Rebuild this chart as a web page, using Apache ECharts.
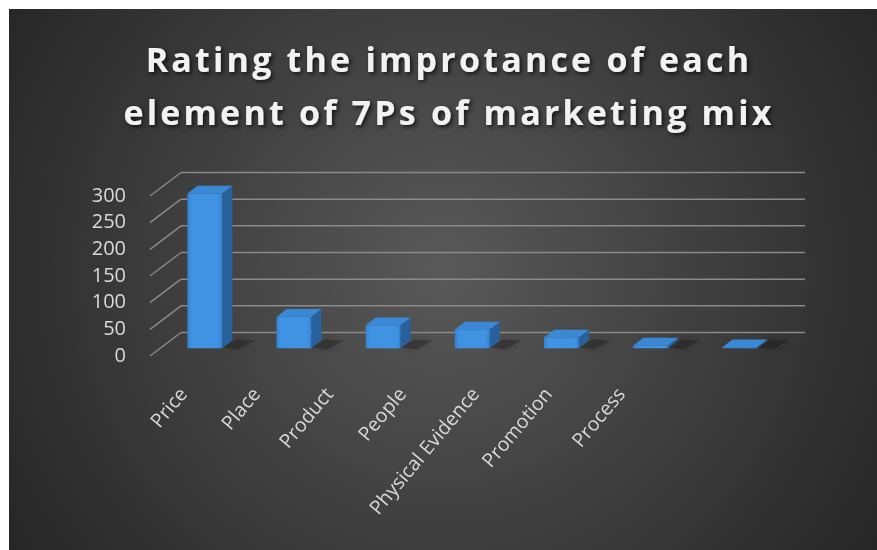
<!DOCTYPE html>
<html>
<head>
<meta charset="utf-8">
<title>7Ps of marketing mix</title>
<script src="https://cdn.jsdelivr.net/npm/echarts@6/dist/echarts.min.js"></script>
<style>
  html, body { margin: 0; padding: 0; background: #ffffff; }
  #wrap { position: relative; width: 877px; height: 550px; }
  #chart, #heading { position: absolute; left: 0; top: 0; width: 877px; height: 550px; }
  #heading { pointer-events: none; }
  /* tracked-out heading lettering */
  #heading text { letter-spacing: 3.2px; }
</style>
</head>
<body>
<div id="wrap">
  <div id="chart"></div>
  <div id="heading"></div>
</div>
<script>
// Survey results: importance rating of each element of the 7Ps
const titleLines = ['Rating the improtance of each', 'element of 7Ps of marketing mix'];
const categories = ['Price', 'Place', 'Product', 'People', 'Physical Evidence', 'Promotion', 'Process'];
const ratings = [290, 59, 43, 35, 20, 5, 2];
const valueTicks = [0, 50, 100, 150, 200, 250, 300];

// Oblique projection used for the pseudo-3D look (pixels from front to back wall)
const DEPTH_X = 31;
const DEPTH_Y = -23.5;
const BAR_FRONT = 0.33;   // depth fraction of bar front face
const BAR_BACK = 0.66;    // depth fraction of bar back face
const BAR_WIDTH = 0.39;   // share of the category band

const chart = echarts.init(document.getElementById('chart'), null, { renderer: 'canvas' });
const heading = echarts.init(document.getElementById('heading'), null, { renderer: 'svg' });

function renderWalls(params, api) {
  const cs = params.coordSys;
  const v = api.value(0);
  const p = api.coord([0, v]);
  const y = p[1];
  const x0 = cs.x;
  const lineStyle = { stroke: '#8a8a8a', lineWidth: 1.5 };
  return {
    type: 'group',
    children: [
      { type: 'line', shape: { x1: x0, y1: y, x2: x0 + DEPTH_X, y2: y + DEPTH_Y }, style: lineStyle },
      { type: 'line', shape: { x1: x0 + DEPTH_X, y1: y + DEPTH_Y, x2: x0 + cs.width + DEPTH_X, y2: y + DEPTH_Y }, style: lineStyle }
    ]
  };
}

function renderBar(params, api) {
  const idx = api.value(0);
  const v = api.value(1);
  const base = api.coord([idx, 0]);
  const top = api.coord([idx, v]);
  const band = api.size([1, 0])[0];
  const w = band * BAR_WIDTH;
  const x0 = base[0] - w / 2 + BAR_FRONT * DEPTH_X;
  const x1 = x0 + w;
  const yTop = top[1] + BAR_FRONT * DEPTH_Y;
  const yBot = base[1] + BAR_FRONT * DEPTH_Y;
  const bx = (BAR_BACK - BAR_FRONT) * DEPTH_X;
  const by = (BAR_BACK - BAR_FRONT) * DEPTH_Y;
  return {
    type: 'group',
    children: [
      // soft floor shadow to the right of the column
      {
        type: 'polygon',
        shape: { points: [[x1 - 2, yBot - 1], [x1 + bx + 4, yBot + by - 1], [x1 + bx + 22, yBot + by], [x1 + 16, yBot + 1]] },
        style: { fill: 'rgba(25,25,25,0.35)', shadowBlur: 10, shadowColor: 'rgba(0,0,0,0.6)' }
      },
      {
        type: 'polygon',
        shape: { points: [[x1, yTop], [x1 + bx, yTop + by], [x1 + bx, yBot + by], [x1, yBot]] },
        style: { fill: '#28609c' }
      },
      {
        type: 'polygon',
        shape: { points: [[x0, yTop], [x1, yTop], [x1 + bx, yTop + by], [x0 + bx, yTop + by]] },
        style: { fill: '#3a89d6' }
      },
      {
        type: 'rect',
        shape: { x: x0, y: yTop, width: w, height: yBot - yTop },
        style: {
          fill: new echarts.graphic.LinearGradient(0, 0, 1, 0, [
            { offset: 0, color: '#3584d2' },
            { offset: 0.12, color: '#3f93e2' },
            { offset: 0.88, color: '#3f93e2' },
            { offset: 1, color: '#3584d2' }
          ])
        }
      }
    ]
  };
}

const option = {
  animation: false,
  graphic: [{
    type: 'rect',
    z: -10,
    shape: { x: 9, y: 9, width: 868, height: 541 },
    style: {
      fill: new echarts.graphic.RadialGradient(0.5, 0.48, 0.95, [
        { offset: 0, color: '#595959' },
        { offset: 1, color: '#262626' }
      ])
    }
  }],
  grid: [
    { left: 150, right: 103, top: 196, bottom: 194 },
    { left: 147.5, width: 511, top: 370, bottom: 167 }
  ],
  xAxis: [
    {
      type: 'category', gridIndex: 0, data: categories,
      axisLine: { show: false }, axisTick: { show: false }, axisLabel: { show: false }
    },
    {
      type: 'category', gridIndex: 1, data: categories,
      axisLine: { show: false }, axisTick: { show: false },
      axisLabel: {
        interval: 0, rotate: 50, margin: 8,
        fontFamily: 'Open Sans', fontSize: 19.5, color: '#d9d9d9'
      }
    }
  ],
  yAxis: [
    {
      type: 'value', gridIndex: 0, min: 0, max: 300, interval: 50,
      axisLine: { show: false }, axisTick: { show: false }, splitLine: { show: false },
      axisLabel: { margin: 24, fontFamily: 'Open Sans', fontSize: 20, color: '#d9d9d9' }
    },
    {
      type: 'value', gridIndex: 1, show: false
    }
  ],
  series: [
    {
      type: 'custom', name: 'walls', xAxisIndex: 0, yAxisIndex: 0,
      renderItem: renderWalls, silent: true, z: 1,
      data: valueTicks.map(v => [v])
    },
    {
      type: 'custom', name: 'Rating', xAxisIndex: 0, yAxisIndex: 0,
      renderItem: renderBar, z: 2,
      encode: { x: 0, y: 1 },
      data: ratings.map((v, i) => [i, v])
    }
  ]
};

chart.setOption(option);

// Heading drawn on its own transparent SVG layer so the lettering can be tracked out
heading.setOption({
  animation: false,
  backgroundColor: 'transparent',
  title: {
    text: titleLines.join('\n'),
    left: 444,
    top: 27,
    textAlign: 'center',
    textStyle: {
      fontFamily: 'Open Sans',
      fontWeight: 'bold',
      fontSize: 34,
      lineHeight: 53,
      color: '#f2f2f2',
      textShadowColor: 'rgba(0,0,0,0.7)',
      textShadowBlur: 4,
      textShadowOffsetX: 2,
      textShadowOffsetY: 2
    }
  }
});
</script>
</body>
</html>
